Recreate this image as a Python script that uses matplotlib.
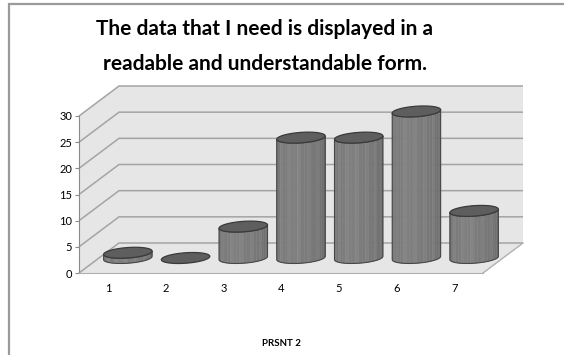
import matplotlib

matplotlib.use("Agg")
import matplotlib.pyplot as plt
import numpy as np
from matplotlib.patches import Polygon, Rectangle

# survey answers per response class
categories = ["1", "2", "3", "4", "5", "6", "7"]
counts = [1, 0, 6, 23, 23, 28, 9]
y_ticks = [0, 5, 10, 15, 20, 25, 30]
title_lines = [
    "The data that I need is displayed in a",
    "readable and understandable form.",
]
x_title = "PRSNT 2"

plt.rcParams["font.family"] = ["Lato", "DejaVu Sans"]

W, H = 564, 355
fig = plt.figure(figsize=(W / 100, H / 100), dpi=100)

# plot box of the front plane (pixels)
left_px, right_px, bottom_px, top_px = 79, 483, 273, 116
ax = fig.add_axes([left_px / W, 1 - bottom_px / H,
                   (right_px - left_px) / W, (bottom_px - top_px) / H])
n = len(categories)
ymax = y_ticks[-1]
ax.set_xlim(0, n)
ax.set_ylim(0, ymax)
ax.patch.set_visible(False)

# oblique depth offset of the chart box, in data units
px_per_cat = (right_px - left_px) / n
px_per_val = (bottom_px - top_px) / ymax
DX = 40 / px_per_cat
DY = 30 / px_per_val

wall = "#e6e6e6"
grid = "#a4a4a4"
ax.add_patch(Polygon([(0, 0), (0, ymax), (DX, ymax + DY), (n + DX, ymax + DY),
                      (n + DX, DY), (n, 0)], closed=True, facecolor=wall,
                     edgecolor="none", clip_on=False, zorder=0))
for v in y_ticks:
    ax.plot([0, DX, n + DX], [v, v + DY, v + DY], color=grid, lw=1.1,
            clip_on=False, zorder=1, solid_capstyle="butt")
ax.plot([n, n + DX], [0, DY], color="#b0b0b0", lw=1.0, clip_on=False, zorder=1)

# cylinders
a = 0.40
g = 0.183


def ellipse(cx, cy, t):
    return cx + a * np.cos(t) + g * DX * np.sin(t), cy + g * DY * np.sin(t)


t0 = np.arctan2(g * DX, a)
tt = np.linspace(0, 2 * np.pi, 120)
nfac = 22
u_pts = [0.0, 0.12, 0.4, 0.75, 1.0]
lum_pts = [0.42, 0.47, 0.50, 0.46, 0.40]

for i, v in enumerate(counts):
    cx = i + 0.5 + DX / 2
    y0 = DY / 2
    y1 = y0 + v
    if v > 0:
        tf = np.linspace(t0 + np.pi, t0 + 2 * np.pi, nfac + 1)
        for k in range(nfac):
            xa, ya = ellipse(cx, y0, tf[k:k + 2])
            xb, yb = ellipse(cx, y1, tf[k:k + 2])
            u = (k + 0.5) / nfac
            lum = np.interp(u, u_pts, lum_pts) + (0.025 if k % 3 == 1 else 0)
            ax.add_patch(Polygon([(xa[0], ya[0]), (xa[1], ya[1]), (xb[1], yb[1]),
                                  (xb[0], yb[0])], closed=True,
                                 facecolor=(lum, lum, lum), edgecolor=(lum, lum, lum),
                                 lw=0.3, clip_on=False, zorder=3))
        xs, ys = ellipse(cx, y0, tf)
        xt, yt = ellipse(cx, y1, tf[::-1])
        ax.add_patch(Polygon(np.column_stack([np.r_[xs, xt], np.r_[ys, yt]]),
                             closed=True, facecolor="none", edgecolor="#474747",
                             lw=0.8, clip_on=False, zorder=4))
    ex, ey = ellipse(cx, y1, tt)
    ax.add_patch(Polygon(np.column_stack([ex, ey]), closed=True,
                         facecolor="#5e5e5e", edgecolor="#3a3a3a", lw=0.9,
                         clip_on=False, zorder=5))

# axes
for side in ("top", "right"):
    ax.spines[side].set_visible(False)
ax.spines["left"].set_color("#8a8a8a")
ax.spines["bottom"].set_color("#b0b0b0")
ax.spines["left"].set_zorder(2)
ax.set_yticks(y_ticks)
ax.set_xticks(np.arange(n) + 0.5)
ax.set_xticklabels(categories)
ax.tick_params(axis="y", length=3, color="#8a8a8a", labelsize=8, pad=2)
ax.tick_params(axis="x", length=0, labelsize=8, pad=7)

# titles
fig.text(265 / W, 1 - 35 / H, title_lines[0], ha="center", va="baseline",
         fontsize=15, fontweight="bold")
fig.text(265 / W, 1 - 70 / H, title_lines[1], ha="center", va="baseline",
         fontsize=15, fontweight="bold")
fig.text(281 / W, 1 - 344 / H, x_title, ha="center", va="center",
         fontsize=7, fontweight="bold")

# chart frame (runs off the right and bottom edges)
fig.patches.append(Rectangle((8.5 / W, -0.1), 1.2, 1.1 - 4.5 / H,
                             transform=fig.transFigure, fill=False,
                             edgecolor="#9a9a9a", lw=1.6))

fig.savefig("out.png", dpi=100)
